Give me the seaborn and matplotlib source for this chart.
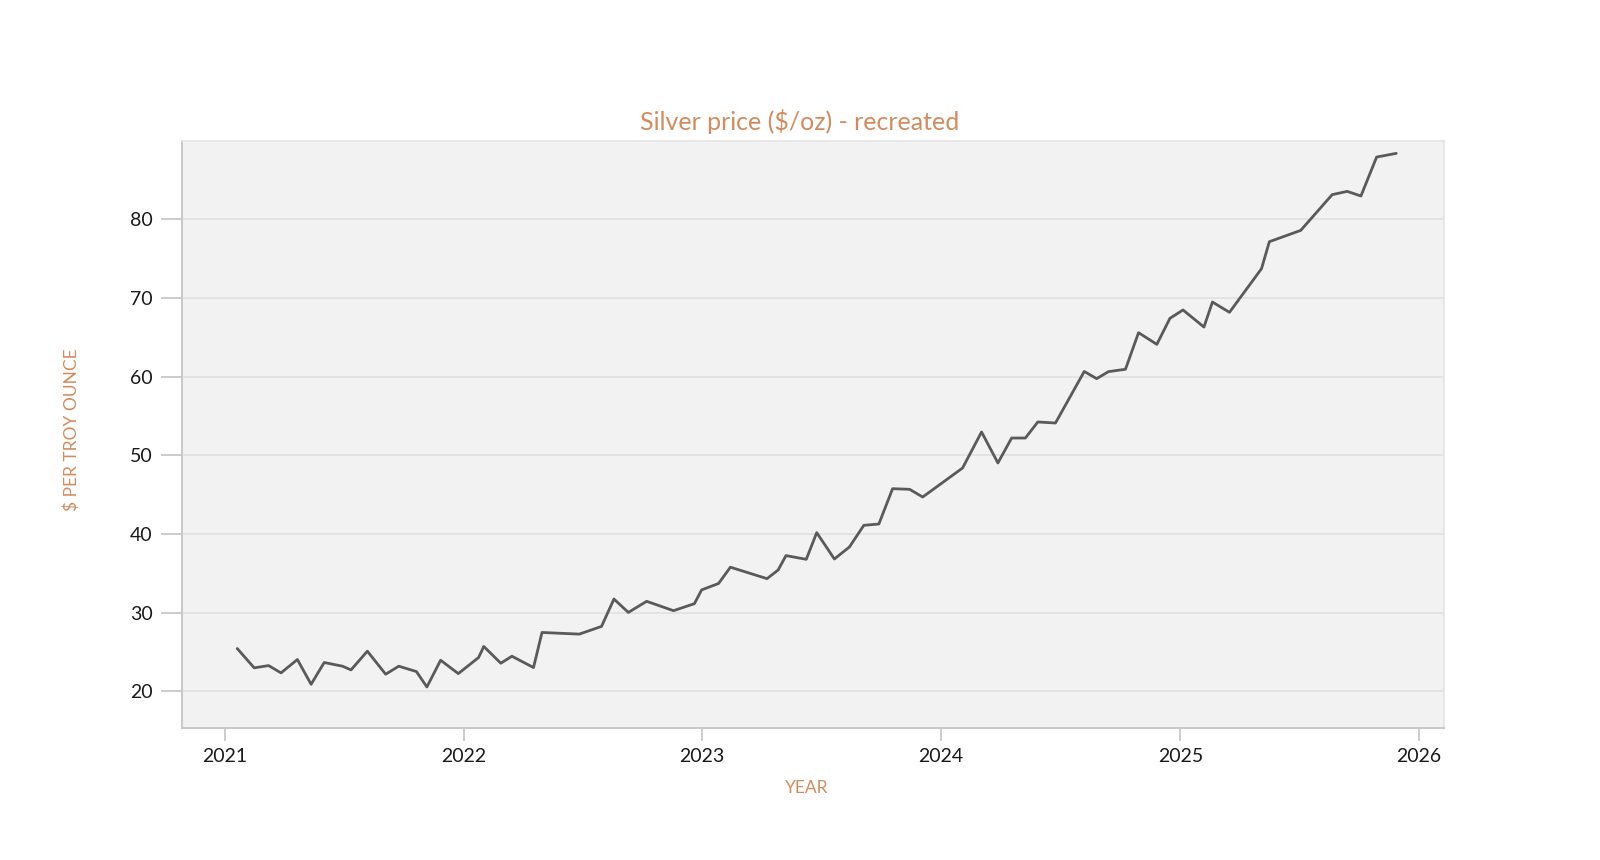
import pandas as pd
import matplotlib
matplotlib.use("Agg")
import matplotlib.pyplot as plt
import matplotlib.dates as mdates
import seaborn as sns

# Silver price readings ($/oz)
dates = [
    "2021-01-20", "2021-02-15", "2021-03-09", "2021-03-28", "2021-04-22",
    "2021-05-13", "2021-06-02", "2021-06-30", "2021-07-13", "2021-08-07",
    "2021-09-04", "2021-09-24", "2021-10-21", "2021-11-06", "2021-11-27",
    "2021-12-24", "2022-01-24", "2022-02-01", "2022-02-27", "2022-03-16",
    "2022-04-18", "2022-05-01", "2022-06-27", "2022-07-31", "2022-08-19",
    "2022-09-10", "2022-10-08", "2022-11-18", "2022-12-20", "2022-12-31",
    "2023-01-26", "2023-02-13", "2023-04-10", "2023-04-27", "2023-05-09",
    "2023-06-09", "2023-06-25", "2023-07-22", "2023-08-14", "2023-09-05",
    "2023-09-28", "2023-10-19", "2023-11-14", "2023-12-04", "2024-02-03",
    "2024-03-03", "2024-03-28", "2024-04-18", "2024-05-09", "2024-05-28",
    "2024-06-24", "2024-08-07", "2024-08-26", "2024-09-13", "2024-10-09",
    "2024-10-29", "2024-11-26", "2024-12-16", "2025-01-05", "2025-02-06",
    "2025-02-19", "2025-03-17", "2025-05-05", "2025-05-17", "2025-07-04",
    "2025-08-21", "2025-09-13", "2025-10-04", "2025-10-28", "2025-11-27",
]
prices = [
    25.45, 22.99, 23.28, 22.35, 24.05,
    20.90, 23.67, 23.20, 22.73, 25.11,
    22.18, 23.20, 22.52, 20.56, 23.96,
    22.26, 24.30, 25.71, 23.58, 24.47,
    23.03, 27.49, 27.28, 28.26, 31.74,
    30.04, 31.45, 30.26, 31.15, 32.90,
    33.72, 35.79, 34.33, 35.43, 37.26,
    36.79, 40.18, 36.83, 38.36, 41.11,
    41.28, 45.77, 45.69, 44.71, 48.40,
    52.98, 49.04, 52.21, 52.21, 54.25,
    54.12, 60.67, 59.76, 60.65, 60.95,
    65.60, 64.12, 67.43, 68.49, 66.32,
    69.50, 68.19, 73.74, 77.17, 78.61,
    83.15, 83.57, 82.98, 87.93, 88.40,
]

title = "Silver price ($/oz) - recreated"
x_label = "YEAR"
y_label = "$ PER TROY OUNCE"
y_ticks = [20, 30, 40, 50, 60, 70, 80]

df = pd.DataFrame({"date": pd.to_datetime(dates), "price": prices})

accent = "#d38b5d"
sns.set_theme(style="white")
plt.rcParams["font.family"] = ["Lato", "DejaVu Sans"]

fig = plt.figure(figsize=(16, 8.6), dpi=100)
ax = fig.add_axes([0.1135, 0.154, 0.789, 0.6823])
ax.set_facecolor("#f2f2f2")

sns.lineplot(data=df, x="date", y="price", ax=ax, color="#5a5a5a", linewidth=2.0)

ax.set_xlim(pd.Timestamp("2020-10-27"), pd.Timestamp("2026-02-08"))
ax.set_ylim(15.4, 90)
ax.set_yticks(y_ticks)
ax.xaxis.set_major_locator(mdates.YearLocator())
ax.xaxis.set_major_formatter(mdates.DateFormatter("%Y"))

ax.grid(axis="y", color="#e2e2e2", linewidth=1.3)
ax.grid(axis="x", visible=False)
ax.set_axisbelow(True)

for side in ["left", "bottom"]:
    ax.spines[side].set_color("#c8c8c8")
    ax.spines[side].set_linewidth(1.4)
for side in ["top", "right"]:
    ax.spines[side].set_color("#e4e4e4")
    ax.spines[side].set_linewidth(1.2)

ax.tick_params(axis="y", length=15, width=1.3, color="#c8c8c8", labelsize=14,
               labelcolor="#1a1a1a", pad=6, left=True)
ax.tick_params(axis="x", length=9, width=1.3, color="#c8c8c8", labelsize=14,
               labelcolor="#1a1a1a", pad=6, bottom=True)

# title and axis labels sit centred on the figure, not on the axes
fig.text(0.5, 0.859, title, color=accent, fontsize=18, ha="center", va="center")
fig.text(0.504, 0.084, x_label, color=accent, fontsize=12.5, ha="center", va="center")
fig.text(0.0446, 0.50, y_label, color=accent, fontsize=12.5, ha="center", va="center",
         rotation=90)
ax.set_xlabel("")
ax.set_ylabel("")

fig.savefig("out.png", dpi=100, facecolor="white")
